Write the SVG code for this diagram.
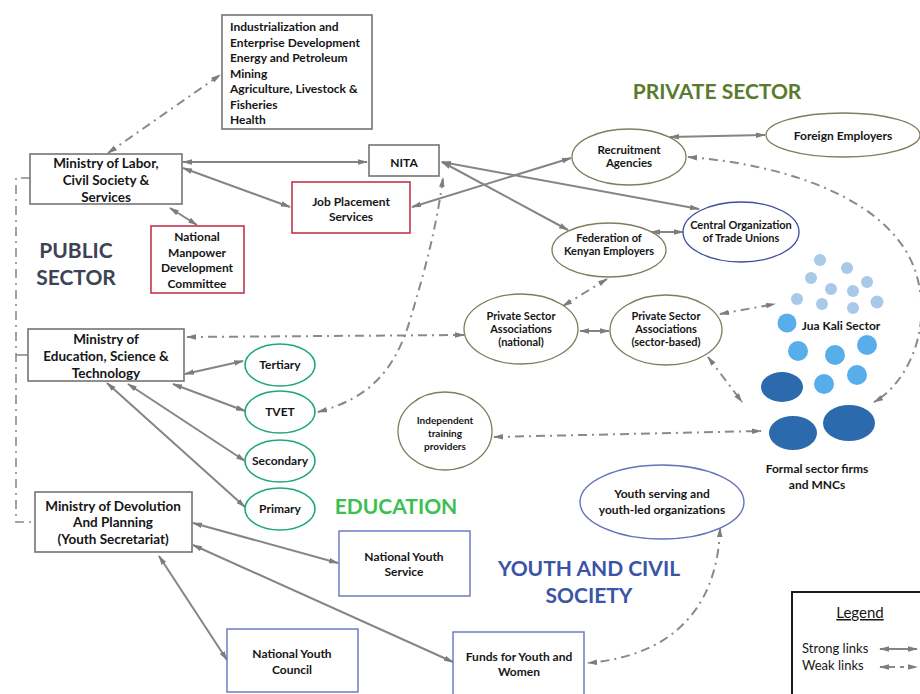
<svg xmlns="http://www.w3.org/2000/svg" width="920" height="694" viewBox="0 0 920 694">
<style>
text{font-family:Lato,"Liberation Sans",Arial,sans-serif;font-weight:700;fill:#161616;text-anchor:middle}
.box{fill:#fff;stroke:#747474;stroke-width:1.6}
.red{fill:#fff;stroke:#c4344c;stroke-width:1.6}
.blu{fill:#fff;stroke:#6672bd;stroke-width:1.4}
.ol{fill:#fff;stroke:#7e7d5e;stroke-width:1.3}
.cb{fill:#fff;stroke:#3d4ba0;stroke-width:1.3}
.gr{fill:#fff;stroke:#1fa77a;stroke-width:1.6}
.s{fill:none;stroke:#858585;stroke-width:2;marker-start:url(#ah);marker-end:url(#ah)}
.w{fill:none;stroke:#8a8a8a;stroke-width:2;stroke-dasharray:9 5 2 5;marker-start:url(#ah);marker-end:url(#ah)}
.t12{font-size:12px}
.t13{font-size:13.5px}
.t11{font-size:11px}
.big{font-size:21px}
.lt{fill:#a8cae8}
.md{fill:#58aeea}
.dk{fill:#2a6aad}
</style>
<defs>
<marker id="ah" viewBox="0 0 10 10" refX="9" refY="5" markerWidth="10" markerHeight="8" markerUnits="userSpaceOnUse" orient="auto-start-reverse" preserveAspectRatio="none">
<path d="M0,1.5 L10,5 L0,8.5 Z" fill="#7d7d7d"/>
</marker>
</defs>
<rect width="920" height="694" fill="#fff"/>

<g id="connectors">
<line class="s" x1="183" y1="162" x2="367" y2="162"/>
<line class="s" x1="183" y1="168" x2="290" y2="207"/>
<line class="s" x1="170" y1="208" x2="197" y2="225"/>
<line class="s" x1="412" y1="207" x2="571" y2="158"/>
<line class="s" x1="442" y1="162" x2="568" y2="230"/>
<line class="s" x1="442" y1="162" x2="699" y2="209"/>
<line class="s" x1="670" y1="137" x2="765" y2="135"/>
<line class="s" x1="651" y1="232" x2="683" y2="232"/>
<line class="s" x1="580" y1="331" x2="609" y2="331"/>
<line class="s" x1="185" y1="374" x2="243" y2="361"/>
<line class="s" x1="173" y1="384" x2="245" y2="411"/>
<line class="s" x1="128" y1="384" x2="245" y2="461"/>
<line class="s" x1="107" y1="383" x2="245" y2="507"/>
<line class="s" x1="193" y1="523" x2="338" y2="563"/>
<line class="s" x1="193" y1="545" x2="453" y2="662"/>
<line class="s" x1="159" y1="556" x2="227" y2="660"/>

<line class="w" x1="108" y1="153" x2="220" y2="75"/>
<path d="M30,178 H16 V522 H35" fill="none" stroke="#8a8a8a" stroke-width="1.6" stroke-dasharray="9 5 2 5"/>
<line x1="16" y1="355" x2="28" y2="355" stroke="#8a8a8a" stroke-width="1.6"/>
<line class="w" x1="187" y1="337" x2="464" y2="335"/>
<path class="w" d="M318,412 C370,398 395,370 410,320 C425,270 436,230 443,178"/>
<line class="w" x1="607" y1="279" x2="563" y2="306"/>
<line class="w" x1="720" y1="314" x2="775" y2="304"/>
<line class="w" x1="708" y1="357" x2="742" y2="402"/>
<line class="w" x1="494" y1="437" x2="761" y2="431"/>
<path class="w" d="M688,157 C790,165 890,200 915,270 C935,330 905,385 874,402"/>
<path class="w" d="M720,528 C718,600 680,655 588,663"/>
</g>

<g id="industries">
<rect class="box" x="222" y="15" width="150" height="114"/>
<text x="230" y="31" style="text-anchor:start;font-size:12px">Industrialization and</text>
<text x="230" y="47" style="text-anchor:start;font-size:12px">Enterprise Development</text>
<text x="230" y="62" style="text-anchor:start;font-size:12px">Energy and Petroleum</text>
<text x="230" y="78" style="text-anchor:start;font-size:12px">Mining</text>
<text x="230" y="93" style="text-anchor:start;font-size:12px">Agriculture, Livestock &amp;</text>
<text x="230" y="109" style="text-anchor:start;font-size:12px">Fisheries</text>
<text x="230" y="124" style="text-anchor:start;font-size:12px">Health</text>
</g>

<g id="labor">
<rect class="box" x="30" y="154" width="152" height="50"/>
<text class="t13" x="106" y="168">Ministry of Labor,</text>
<text class="t13" x="106" y="185">Civil Society &amp;</text>
<text class="t13" x="106" y="202">Services</text>
</g>

<g id="nita">
<rect class="box" x="369" y="145" width="70" height="31"/>
<text class="t12" x="404" y="167">NITA</text>
</g>

<g id="jobplacement">
<rect class="red" x="292" y="182" width="118" height="51"/>
<text class="t12" x="351" y="206">Job Placement</text>
<text class="t12" x="351" y="221">Services</text>
</g>

<g id="nmdc">
<rect class="red" x="151" y="226" width="93" height="67"/>
<text class="t12" x="197" y="241">National</text>
<text class="t12" x="197" y="257">Manpower</text>
<text class="t12" x="197" y="272">Development</text>
<text class="t12" x="197" y="288">Committee</text>
</g>

<g id="public-label">
<text class="big" x="76" y="258" style="fill:#3c4354">PUBLIC</text>
<text class="big" x="76" y="285" style="fill:#3c4354">SECTOR</text>
</g>

<g id="moe">
<rect class="box" x="28" y="329" width="156" height="52"/>
<text class="t13" x="106" y="344">Ministry of</text>
<text class="t13" x="106" y="361">Education, Science &amp;</text>
<text class="t13" x="106" y="378">Technology</text>
</g>

<g id="tertiary"><ellipse class="gr" cx="280" cy="365" rx="35" ry="21"/><text class="t12" x="280" y="369">Tertiary</text></g>
<g id="tvet"><ellipse class="gr" cx="280" cy="412" rx="35" ry="21"/><text class="t12" x="280" y="416">TVET</text></g>
<g id="secondary"><ellipse class="gr" cx="280" cy="461" rx="35" ry="21"/><text class="t12" x="280" y="465">Secondary</text></g>
<g id="primary"><ellipse class="gr" cx="280" cy="509" rx="35" ry="21"/><text class="t12" x="280" y="513">Primary</text></g>

<g id="education-label"><text class="big" x="396" y="514" style="fill:#3dbf4f">EDUCATION</text></g>

<g id="modp">
<rect class="box" x="35" y="492" width="157" height="60"/>
<text class="t13" x="113" y="511">Ministry of Devolution</text>
<text class="t13" x="113" y="527">And Planning</text>
<text class="t13" x="113" y="544">(Youth Secretariat)</text>
</g>

<g id="nys">
<rect class="blu" x="339" y="531" width="131" height="65"/>
<text class="t12" x="404" y="561">National Youth</text>
<text class="t12" x="404" y="576">Service</text>
</g>

<g id="nyc">
<rect class="blu" x="227" y="629" width="131" height="63"/>
<text class="t12" x="292" y="658">National Youth</text>
<text class="t12" x="292" y="674">Council</text>
</g>

<g id="funds">
<rect class="blu" x="453" y="632" width="131" height="70"/>
<text class="t12" x="519" y="661">Funds for Youth and</text>
<text class="t12" x="519" y="676">Women</text>
</g>

<g id="youth-label">
<text class="big" x="589" y="576" style="fill:#3a54a6">YOUTH AND CIVIL</text>
<text class="big" x="589" y="603" style="fill:#3a54a6">SOCIETY</text>
</g>

<g id="youthorgs">
<ellipse class="blu" cx="662" cy="502" rx="82" ry="37"/>
<text class="t12" x="662" y="498">Youth serving and</text>
<text class="t12" x="662" y="514">youth-led organizations</text>
</g>

<g id="private-label"><text class="big" x="717" y="99" style="fill:#5a7a2d">PRIVATE SECTOR</text></g>

<g id="recruitment">
<ellipse class="ol" cx="629" cy="157" rx="57" ry="28"/>
<text class="t11" x="629" y="154" style="font-size:11.5px">Recruitment</text>
<text class="t11" x="629" y="167" style="font-size:11.5px">Agencies</text>
</g>

<g id="foreign">
<ellipse class="ol" cx="843" cy="135" rx="77" ry="22"/>
<text class="t12" x="843" y="140">Foreign Employers</text>
</g>

<g id="cotu">
<ellipse class="cb" cx="741" cy="232" rx="58" ry="30"/>
<text class="t11" x="741" y="229">Central Organization</text>
<text class="t11" x="741" y="242">of Trade Unions</text>
</g>

<g id="fke">
<ellipse class="ol" cx="609" cy="250" rx="57" ry="27"/>
<text class="t11" x="609" y="242">Federation of</text>
<text class="t11" x="609" y="255">Kenyan Employers</text>
</g>

<g id="psa-national">
<ellipse class="ol" cx="521" cy="329" rx="57" ry="35"/>
<text class="t11" x="521" y="320">Private Sector</text>
<text class="t11" x="521" y="333">Associations</text>
<text class="t11" x="521" y="346">(national)</text>
</g>

<g id="psa-sector">
<ellipse class="ol" cx="666" cy="330" rx="56" ry="35"/>
<text class="t11" x="666" y="320">Private Sector</text>
<text class="t11" x="666" y="333">Associations</text>
<text class="t11" x="666" y="346">(sector-based)</text>
</g>

<g id="independent">
<ellipse class="ol" cx="445" cy="431" rx="47" ry="39"/>
<text x="445" y="424" style="font-size:10px">Independent</text>
<text x="445" y="437" style="font-size:10px">training</text>
<text x="445" y="450" style="font-size:10px">providers</text>
</g>

<g id="juakali">
<circle class="lt" cx="820" cy="260" r="6"/>
<circle class="lt" cx="847" cy="268" r="6"/>
<circle class="lt" cx="811" cy="278" r="6"/>
<circle class="lt" cx="831" cy="289" r="6"/>
<circle class="lt" cx="867" cy="282" r="6"/>
<circle class="lt" cx="853" cy="291" r="6"/>
<circle class="lt" cx="797" cy="299" r="6"/>
<circle class="lt" cx="822" cy="304" r="6"/>
<circle class="lt" cx="853" cy="308" r="6"/>
<circle class="lt" cx="877" cy="302" r="6.5"/>
<circle class="md" cx="787" cy="323" r="9.5"/>
<circle class="md" cx="798" cy="351" r="10"/>
<circle class="md" cx="835" cy="355" r="10"/>
<circle class="md" cx="867" cy="345" r="10"/>
<circle class="md" cx="824" cy="384" r="10"/>
<circle class="md" cx="857" cy="375" r="10"/>
<text class="t12" x="841" y="330">Jua Kali Sector</text>
</g>

<g id="formal">
<ellipse class="dk" cx="782" cy="387" rx="21" ry="15"/>
<ellipse class="dk" cx="793" cy="433" rx="24" ry="17"/>
<ellipse class="dk" cx="849" cy="423" rx="26" ry="18"/>
<text class="t12" x="817" y="473">Formal sector firms</text>
<text class="t12" x="817" y="489">and MNCs</text>
</g>

<g id="legend">
<rect x="792" y="592" width="140" height="110" fill="#fff" stroke="#1a1a1a" stroke-width="2"/>
<text x="860" y="618" style="font-size:15px;font-weight:400;text-decoration:underline">Legend</text>
<text x="802" y="653" style="font-size:13px;font-weight:400;text-anchor:start">Strong links</text>
<text x="802" y="670" style="font-size:13px;font-weight:400;text-anchor:start">Weak links</text>
<line class="s" x1="880" y1="649" x2="917" y2="649"/>
<line class="w" x1="880" y1="667" x2="917" y2="667" style="stroke-dasharray:4 5 6 5"/>
</g>
</svg>
